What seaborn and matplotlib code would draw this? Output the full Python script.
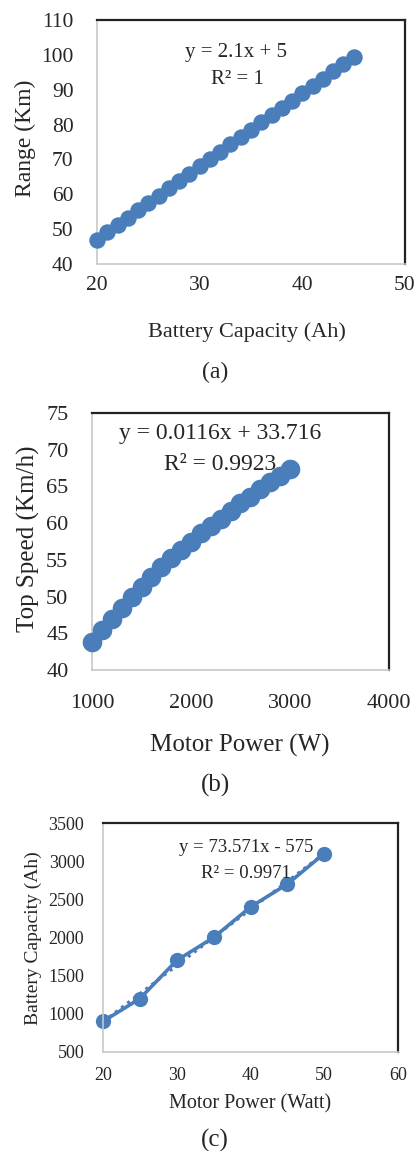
import numpy as np
import pandas as pd
import seaborn as sns
import matplotlib.pyplot as plt

# (a) range vs battery capacity
cap_ah = [20, 21, 22, 23, 24, 25, 26, 27, 28, 29, 30, 31, 32, 33, 34, 35, 36,
          37, 38, 39, 40, 41, 42, 43, 44, 45]
range_km = [47.0, 49.1, 51.2, 53.3, 55.4, 57.5, 59.6, 61.7, 63.8, 65.9, 68.0,
            70.1, 72.2, 74.3, 76.4, 78.5, 80.6, 82.7, 84.8, 86.9, 89.0, 91.1,
            93.2, 95.3, 97.4, 99.5]

# (b) top speed vs motor power
power_w = [1000, 1100, 1200, 1300, 1400, 1500, 1600, 1700, 1800, 1900, 2000,
           2100, 2200, 2300, 2400, 2500, 2600, 2700, 2800, 2900, 3000]
speed_kmh = [43.8, 45.4, 47.0, 48.5, 50.0, 51.3, 52.7, 54.0, 55.2, 56.4, 57.5,
             58.6, 59.6, 60.6, 61.7, 62.7, 63.6, 64.6, 65.6, 66.4, 67.4]

# (c) battery capacity vs motor power
power_watt = [20, 25, 30, 35, 40, 45, 50]
batt_ah = [900, 1200, 1700, 2000, 2400, 2700, 3100]

df_a = pd.DataFrame({"x": cap_ah, "y": range_km})
df_b = pd.DataFrame({"x": power_w, "y": speed_kmh})
df_c = pd.DataFrame({"x": power_watt, "y": batt_ah})

sns.set_style("white")
plt.rcParams['font.family'] = ['Liberation Serif', 'DejaVu Serif']

blue = "#4a7ebb"
W, H = 416, 1151


def fx(px):
    return px / W


def fy(py):
    return 1 - py / H


def box(left, right, top, bottom):
    return [fx(left), fy(bottom), fx(right) - fx(left), (bottom - top) / H]


def style_axes(ax, xpad, ypad, size):
    ax.tick_params(axis='both', which='both', length=0, labelsize=size)
    ax.tick_params(axis='x', pad=xpad)
    ax.tick_params(axis='y', pad=ypad)
    for s in ['left', 'bottom']:
        ax.spines[s].set_color("#c8c8c8")
        ax.spines[s].set_linewidth(1.2)
    for s in ['top', 'right']:
        ax.spines[s].set_color("#222222")
        ax.spines[s].set_linewidth(1.6)
    ax.set_xlabel('')
    ax.set_ylabel('')


fig = plt.figure(figsize=(W / 100, H / 100), dpi=100)

# ---- (a)
ax1 = fig.add_axes(box(97, 405, 20, 264))
sns.scatterplot(data=df_a, x="x", y="y", ax=ax1, color=blue, s=140,
                linewidth=0, legend=False, zorder=3, clip_on=False)
ax1.set_xlim(20, 50)
ax1.set_ylim(40, 110)
ax1.set_xticks([20, 30, 40, 50])
ax1.set_yticks(range(40, 111, 10))
style_axes(ax1, 9, 17, 15.5)
fig.text(fx(236), fy(53), "y = 2.1x + 5", ha='center', va='center', fontsize=15)
fig.text(fx(237), fy(80), "R² = 1", ha='center', va='center', fontsize=15)
fig.text(fx(247), fy(332), "Battery Capacity (Ah)", ha='center', va='center', fontsize=16)
fig.text(fx(25), fy(138), "Range (Km)", ha='center', va='center', fontsize=17, rotation=90)
fig.text(fx(215), fy(372), "(a)", ha='center', va='center', fontsize=17)

# ---- (b)
ax2 = fig.add_axes(box(92, 389, 413, 670))
sns.scatterplot(data=df_b, x="x", y="y", ax=ax2, color=blue, s=200,
                linewidth=0, legend=False, zorder=3, clip_on=False)
ax2.set_xlim(1000, 4000)
ax2.set_ylim(40, 75)
ax2.set_xticks([1000, 2000, 3000, 4000])
ax2.set_yticks(range(40, 76, 5))
style_axes(ax2, 17, 17, 16)
fig.text(fx(220), fy(433), "y = 0.0116x + 33.716", ha='center', va='center', fontsize=17)
fig.text(fx(220), fy(464), "R² = 0.9923", ha='center', va='center', fontsize=17)
fig.text(fx(240), fy(745), "Motor Power (W)", ha='center', va='center', fontsize=18)
fig.text(fx(28), fy(539), "Top Speed (Km/h)", ha='center', va='center', fontsize=18, rotation=90)
fig.text(fx(215), fy(785), "(b)", ha='center', va='center', fontsize=18)

# ---- (c)
ax3 = fig.add_axes(box(103, 398, 823, 1052))
sns.regplot(data=df_c, x="x", y="y", ax=ax3, scatter=False, ci=None,
            line_kws=dict(color=blue, lw=2.2, ls=(0, (1, 1.5))))
sns.lineplot(data=df_c, x="x", y="y", ax=ax3, color=blue, lw=2.6,
             marker='o', markersize=11, markeredgewidth=0, estimator=None,
             clip_on=False)
ax3.set_xlim(20, 60)
ax3.set_ylim(500, 3500)
ax3.set_xticks([20, 30, 40, 50, 60])
ax3.set_yticks(range(500, 3501, 500))
style_axes(ax3, 10.5, 13.5, 13)
fig.text(fx(246), fy(848), "y = 73.571x - 575", ha='center', va='center', fontsize=13.5)
fig.text(fx(246), fy(874), "R² = 0.9971", ha='center', va='center', fontsize=13.5)
fig.text(fx(250), fy(1104), "Motor Power (Watt)", ha='center', va='center', fontsize=14.5)
fig.text(fx(33), fy(938), "Battery Capacity (Ah)", ha='center', va='center', fontsize=14, rotation=90)
fig.text(fx(215), fy(1140), "(c)", ha='center', va='center', fontsize=18)

fig.savefig("out.png", dpi=100, facecolor="white")
